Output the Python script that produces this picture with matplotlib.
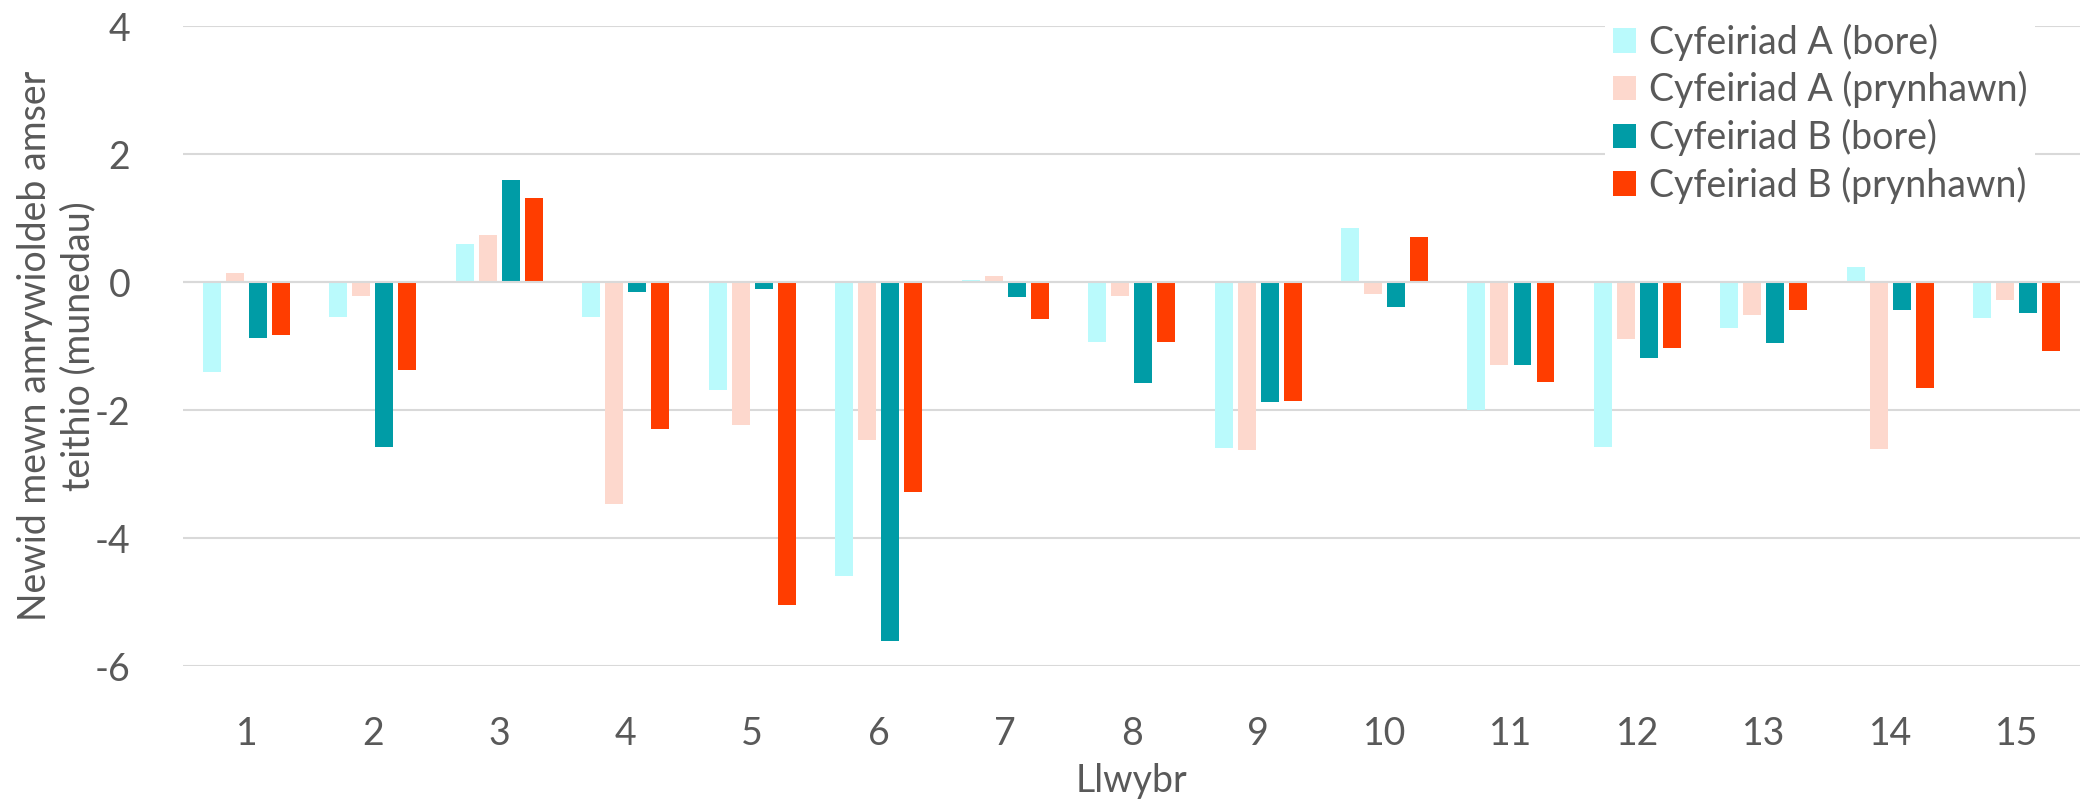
import numpy as np
import matplotlib
matplotlib.use("Agg")
from matplotlib import pyplot as plt

routes = [str(i) for i in range(1, 16)]
a_bore = [-1.40, -0.55, 0.59, -0.55, -1.69, -4.59, 0.03, -0.93, -2.59, 0.84, -2.00, -2.57, -0.72, 0.23, -0.56]
a_pryn = [0.14, -0.22, 0.73, -3.47, -2.24, -2.47, 0.10, -0.22, -2.62, -0.19, -1.30, -0.89, -0.51, -2.61, -0.28]
b_bore = [-0.88, -2.57, 1.59, -0.16, -0.11, -5.61, -0.23, -1.58, -1.87, -0.39, -1.30, -1.18, -0.96, -0.44, -0.48]
b_pryn = [-0.83, -1.38, 1.31, -2.29, -5.04, -3.28, -0.58, -0.94, -1.86, 0.70, -1.56, -1.03, -0.44, -1.66, -1.08]

series = [
    ("Cyfeiriad A (bore)", a_bore, "#BAFAFC"),
    ("Cyfeiriad A (prynhawn)", a_pryn, "#FDD8CD"),
    ("Cyfeiriad B (bore)", b_bore, "#009CA6"),
    ("Cyfeiriad B (prynhawn)", b_pryn, "#FF3D00"),
]

txt = "#595959"
fs = 27
plt.rcParams['font.family'] = ['Lato', 'DejaVu Sans']
plt.rcParams['axes.unicode_minus'] = False

fig = plt.figure(figsize=(20.83, 8.08), dpi=100)
ax = fig.add_axes([0.0879, 0.1757, 0.9107, 0.7921])

x = np.arange(len(routes))
step = 0.182
for i, (name, vals, col) in enumerate(series):
    ax.bar(x + (i - 1.5) * step, vals, width=0.142, color=col, label=name, zorder=2)

ax.set_xlim(-0.5, len(routes) - 0.5)
ax.set_ylim(-6, 4)
ax.set_yticks([-6, -4, -2, 0, 2, 4])
ax.set_xticks(x)
ax.set_xticklabels(routes)
ax.yaxis.grid(True, color="#D9D9D9", linewidth=1.5, zorder=0)
ax.axhline(0, color="#D9D9D9", linewidth=1.5, zorder=3)
ax.set_axisbelow(True)
for s in ax.spines.values():
    s.set_visible(False)
ax.tick_params(length=0, labelsize=fs, labelcolor=txt)
ax.tick_params(axis='y', pad=38)
ax.tick_params(axis='x', pad=36)

ax.set_xlabel("Llwybr", fontsize=fs, color=txt, labelpad=8)
fig.text(0.027, 0.572, "Newid mewn amrywioldeb amser\nteithio (munedau)", fontsize=fs,
         color=txt, linespacing=1.25, rotation=90, ha="center", va="center")

leg = ax.legend(loc="upper left", bbox_to_anchor=(1605 / 2083, 1 - 16 / 808),
                bbox_transform=fig.transFigure, fontsize=fs, frameon=True,
                framealpha=1, edgecolor="none", handlelength=0.62, handleheight=0.62,
                handletextpad=0.35, labelspacing=0.28, borderpad=0.2, borderaxespad=0)
for t in leg.get_texts():
    t.set_color(txt)

fig.savefig("out.png", dpi=100, facecolor="white")
